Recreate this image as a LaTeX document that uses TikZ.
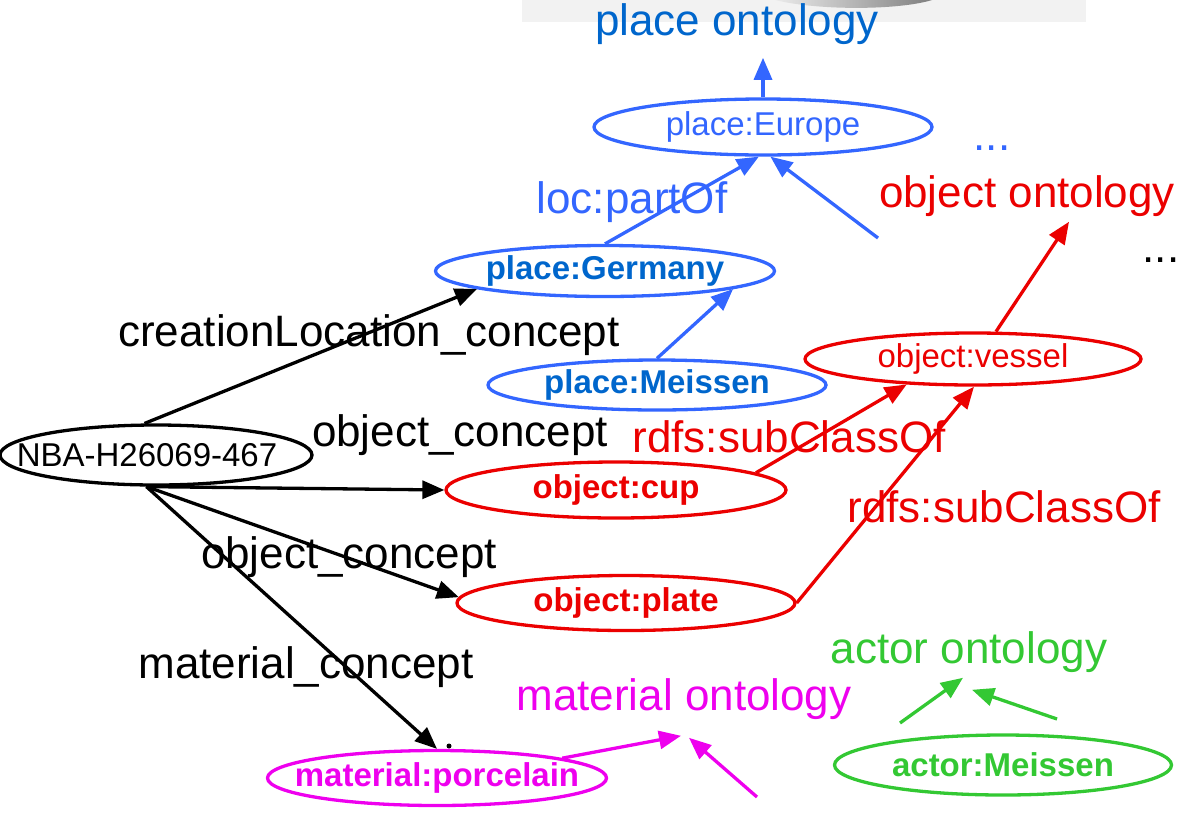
\documentclass[tikz,border=0pt]{standalone}
\usepackage{fontspec}
\setmainfont{Liberation Sans}
\usetikzlibrary{shapes.geometric,arrows.meta}
\definecolor{plblue}{RGB}{51,102,255}
\definecolor{pldark}{RGB}{0,102,204}
\definecolor{objred}{RGB}{235,0,0}
\definecolor{matmag}{RGB}{238,0,238}
\definecolor{actgreen}{RGB}{51,200,51}
\newcommand{\ctr}[1]{\makebox[0pt]{#1}}

\begin{document}
\begin{tikzpicture}[x=1pt, y=-1pt, >={Triangle[length=22pt,width=18pt]}, line width=3.3pt,
  concept/.style={ellipse, draw, minimum width=338pt, minimum height=52pt, inner sep=0pt,
    font=\fontsize{33}{38}\selectfont},
  bconcept/.style={concept, font=\fontsize{33}{38}\selectfont\bfseries},
  rel/.style={font=\fontsize{44}{48}\selectfont, inner sep=0pt, anchor=base}]
  \useasboundingbox (0,0) rectangle (1186,820);
  % strip of the screenshot above
  \fill[black!5] (522,0) rectangle (1086,22);
  \shade[left color=black!8, right color=black!50] (775,0) .. controls (820,11) and (900,10) .. (932,0) -- cycle;

  % concepts
  \node[concept, minimum width=312pt, minimum height=60pt] (nba) at (156,455) {\ctr{\hspace*{-18pt}NBA-H26069-467}};
  \node[concept, plblue, minimum height=56pt] (eur) at (763,127) {\ctr{place:Europe}};
  \node[bconcept, plblue, text=pldark, minimum width=339pt, minimum height=51pt] (ger) at (605,271) {\ctr{place:Germany}};
  \node[bconcept, plblue, text=pldark, minimum height=50pt] (mei) at (657,385) {\ctr{place:Meissen}};
  \node[concept, objred, minimum width=336pt] (ves) at (973,359) {\ctr{object:vessel}};
  \node[bconcept, objred, minimum width=340pt, minimum height=56pt] (cup) at (616,490) {\ctr{object:cup}};
  \node[bconcept, objred, minimum height=55pt] (plate) at (626,603) {\ctr{object:plate}};
  \node[bconcept, matmag, minimum width=339pt, minimum height=55pt] (por) at (437,778) {\ctr{material:porcelain}};
  \node[bconcept, actgreen, minimum width=337pt, minimum height=60pt] (act) at (1003,765) {\ctr{actor:Meissen}};

  % labels
  \node[rel, pldark] (plont) at (737,35) {place ontology};
  \node[rel, plblue] (partof) at (632,213) {loc:partOf};
  \node[rel, plblue] (bdots) at (992,150) {...};
  \node[rel, objred] (objont) at (1027,207) {object ontology};
  \node[rel] (kdots) at (1161,262) {...};
  \node[rel] (crl) at (369,346) {creationLocation\_concept};
  \node[rel] (oc1) at (460,446) {object\_concept};
  \node[rel, objred] (sub1) at (789,452) {rdfs:subClassOf};
  \node[rel, objred] (sub2) at (1004,522) {rdfs:subClassOf};
  \node[rel] (oc2) at (349,568) {object\_concept};
  \node[rel] (matc) at (306,678) {material\_concept};
  \node[rel, matmag] (matont) at (684,710) {material ontology};
  \node[rel, actgreen] (actont) at (969,663) {actor ontology};

  % free ends
  \coordinate (pfree) at (878,238);
  \coordinate (mfree) at (757,797);
  \coordinate (afree1) at (900,723);
  \coordinate (afree2) at (1057,719);

  % place ontology
  \draw[->, plblue] (eur.north) -- ([xshift=26pt,yshift=-12pt]plont.south);
  \draw[->, plblue] (ger.north) -- (eur.-98);
  \draw[->, plblue] (pfree) -- (eur.-76);
  \draw[->, plblue] (mei.north) -- (ger.-8);

  % object properties
  \draw[->] (nba.110) -- (ger.-172);
  \draw[->] (nba.-107) -- (cup.west);
  \draw[->] (nba.-107) -- (plate.178);
  \draw[->] (nba.-107) -- (por.north);
  \fill (449,746) circle (2.5pt);

  % object ontology
  \draw[->, objred] (cup.7) -- (ves.-159);
  \draw[->, objred] (plate.east) -- (ves.-88);
  \draw[->, objred] (ves.50) -- ([xshift=42pt,yshift=-4pt]objont.south);

  % material and actor ontology
  \draw[->, matmag] (por.9) -- ([xshift=-3pt,yshift=-15pt]matont.south);
  \draw[->, matmag] (mfree) -- ([xshift=5pt,yshift=-17pt]matont.south);
  \draw[->, actgreen] (afree1) -- ([xshift=-6pt,yshift=-4pt]actont.south);
  \draw[->, actgreen] (afree2) -- ([xshift=3pt,yshift=-16pt]actont.south);
\end{tikzpicture}
\end{document}
